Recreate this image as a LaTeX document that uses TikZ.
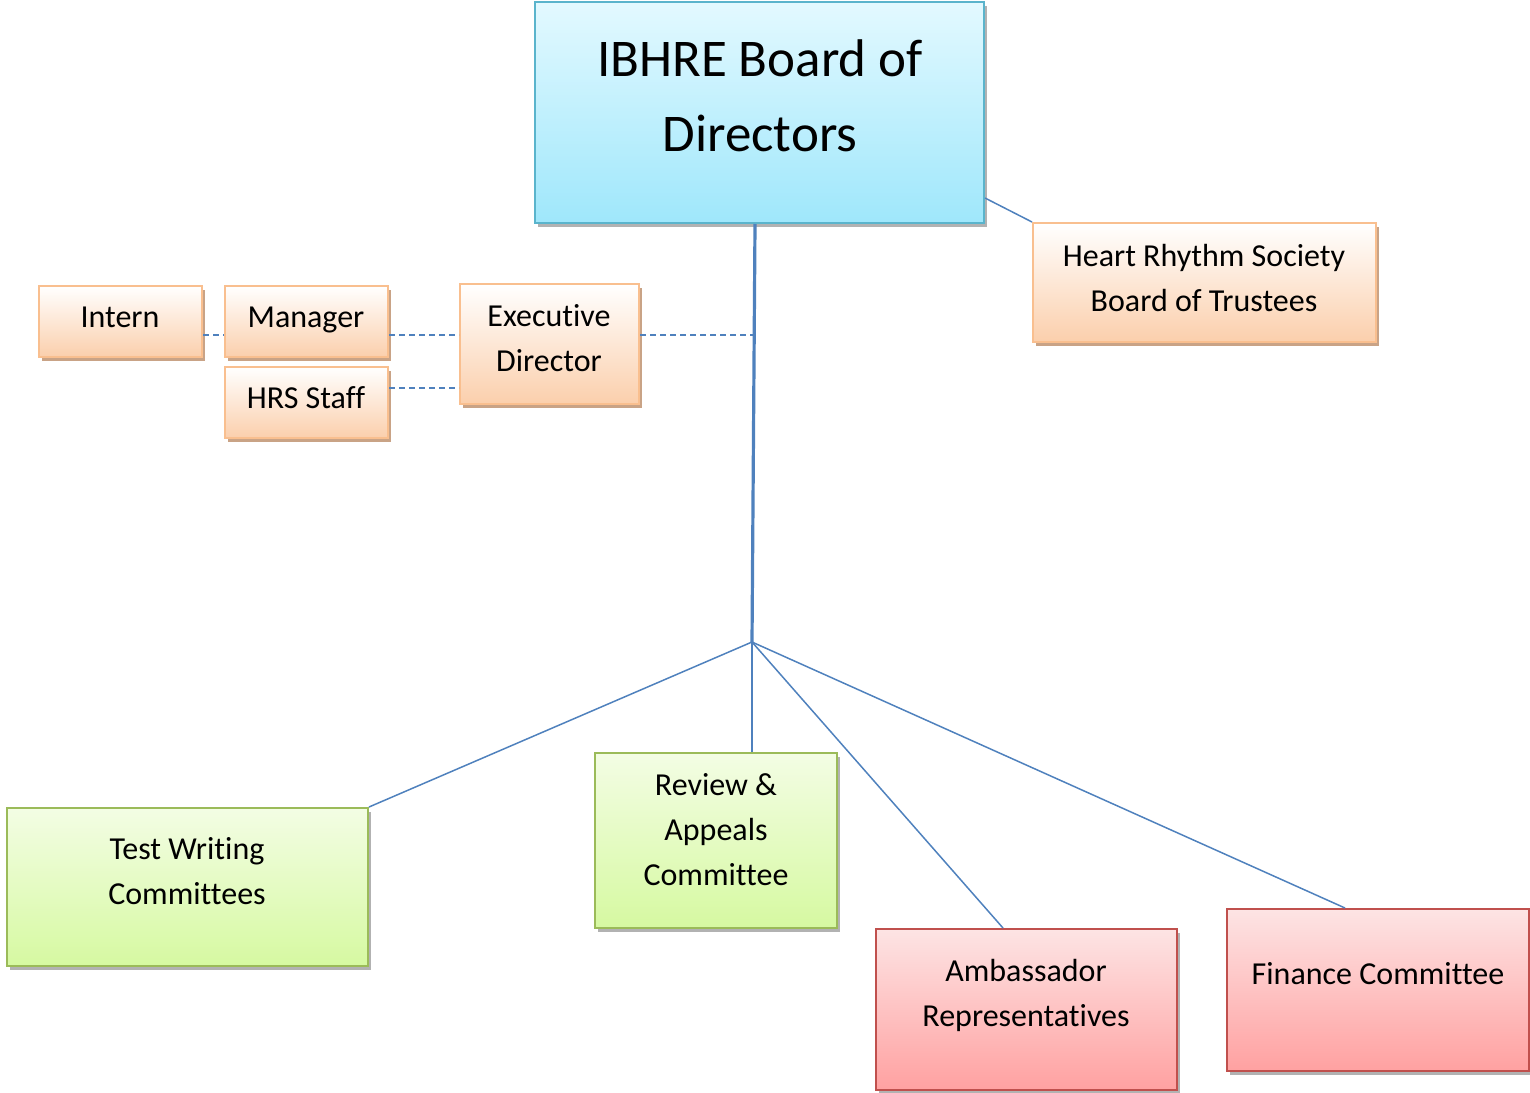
\documentclass[tikz,border=0pt]{standalone}
\usepackage{fontspec}
\setmainfont{Carlito}[Ligatures=NoCommon]
\usetikzlibrary{shadows}
\definecolor{blueline}{HTML}{5AB4CC}
\definecolor{bluetop}{HTML}{E3F9FF}
\definecolor{bluebot}{HTML}{9FE7FB}
\definecolor{orangeline}{HTML}{F9BF8F}
\definecolor{orangebot}{HTML}{FBCFAC}
\definecolor{orangeshade}{HTML}{C9A386}
\definecolor{greenline}{HTML}{9BBB59}
\definecolor{greentop}{HTML}{F3FDE4}
\definecolor{greenbot}{HTML}{D6F9A1}
\definecolor{redline}{HTML}{C0504D}
\definecolor{redtop}{HTML}{FDE4E4}
\definecolor{redbot}{HTML}{FFA1A1}
\definecolor{linkcolor}{HTML}{4F81BD}
\tikzstyle{box} = [rectangle, line width=1pt, inner sep=0pt]
\tikzstyle{bluebox} = [box, draw=blueline, top color=bluetop, bottom color=bluebot,
  drop shadow={shadow xshift=1.5pt, shadow yshift=-2pt, fill=black, opacity=0.3}]
\tikzstyle{orangebox} = [box, draw=orangeline, top color=white, bottom color=orangebot,
  drop shadow={shadow xshift=1.5pt, shadow yshift=-2pt, fill=orangeshade, opacity=1}]
\tikzstyle{greenbox} = [box, draw=greenline, top color=greentop, bottom color=greenbot,
  drop shadow={shadow xshift=1.5pt, shadow yshift=-2pt, fill=black, opacity=0.3}]
\tikzstyle{redbox} = [box, draw=redline, top color=redtop, bottom color=redbot,
  drop shadow={shadow xshift=1.5pt, shadow yshift=-2pt, fill=black, opacity=0.3}]
\tikzstyle{label} = [align=center, font=\fontsize{16}{22.5}\selectfont]
\tikzset{link/.style = {
    draw=linkcolor, line width=0.75pt,
  },
  trunk/.style = {link, line width=1.6pt},
  dotlink/.style = {link, dash pattern=on 3pt off 2pt},
}

\begin{document}
\begin{tikzpicture}[x=0.5pt, y=-0.5pt]
  \useasboundingbox (0,0) rectangle (1530,1092);
  % boxes
  \node[bluebox, minimum width=224.5pt, minimum height=110.5pt] (bod) at (759.5,112.5) {};
  \node[orangebox, minimum width=171.5pt, minimum height=59.5pt] (hrs) at (1204.5,282.5) {};
  \node[orangebox, minimum width=81.5pt, minimum height=35.5pt] (intern) at (120.5,321.5) {};
  \node[orangebox, minimum width=81.5pt, minimum height=35.5pt] (manager) at (306.5,321.5) {};
  \node[orangebox, minimum width=81.5pt, minimum height=35.5pt] (staff) at (306.5,402.5) {};
  \node[orangebox, minimum width=89.5pt, minimum height=60pt] (exec) at (549.5,344) {};
  \node[greenbox, minimum width=180.5pt, minimum height=79pt] (tw) at (187.5,887) {};
  \node[greenbox, minimum width=121pt, minimum height=87.5pt] (review) at (716,840.5) {};
  \node[redbox, minimum width=150.5pt, minimum height=80.5pt] (amb) at (1026.5,1009.5) {};
  \node[redbox, minimum width=151pt, minimum height=81pt] (fin) at (1378,990) {};

  % texts
  \node[label, font=\fontsize{26.5}{37.5}\selectfont] (bod-t) at (760,96) {IBHRE Board of\\Directors};
  \node[label] (hrs-t) at (1204,278) {Heart Rhythm Society\\Board of Trustees};
  \node[label] (intern-t) at (120,317) {Intern};
  \node[label] (manager-t) at (306,320) {Manager};
  \node[label] (staff-t) at (306,398) {HRS Staff};
  \node[label] (exec-t) at (549,338) {Executive\\Director};
  \node[label] (tw-t) at (187,871) {Test Writing\\Committees};
  \node[label] (review-t) at (716,830) {Review \&\\Appeals\\Committee};
  \node[label] (amb-t) at (1026,995) {Ambassador\\Representatives};
  \node[label] (fin-t) at (1378,974) {Finance Committee};

  % edges
  \coordinate (hub) at (752,642);
  \coordinate (tap) at (753,335);
  \draw[trunk] ([xshift=-2.25pt]bod.south) -- (hub);
  \draw[link] (bod.east |- 0,198) -- (hrs.north west);
  \draw[link] (hub) -- (tw.north east);
  \draw[link] (hub) -- (review.north -| hub);
  \draw[link] (hub) -- (amb.north -| 1003,0);
  \draw[link] (hub) -- (fin.north -| 1345,0);
  \draw[dotlink] (exec.east |- tap) -- (tap);
  \draw[dotlink] (manager.east |- tap) -- (exec.west |- tap);
  \draw[dotlink] (staff.east |- 0,388) -- (exec.west |- 0,388);
  \draw[dotlink] (intern.east |- tap) -- (manager.west |- tap);
\end{tikzpicture}
\end{document}
